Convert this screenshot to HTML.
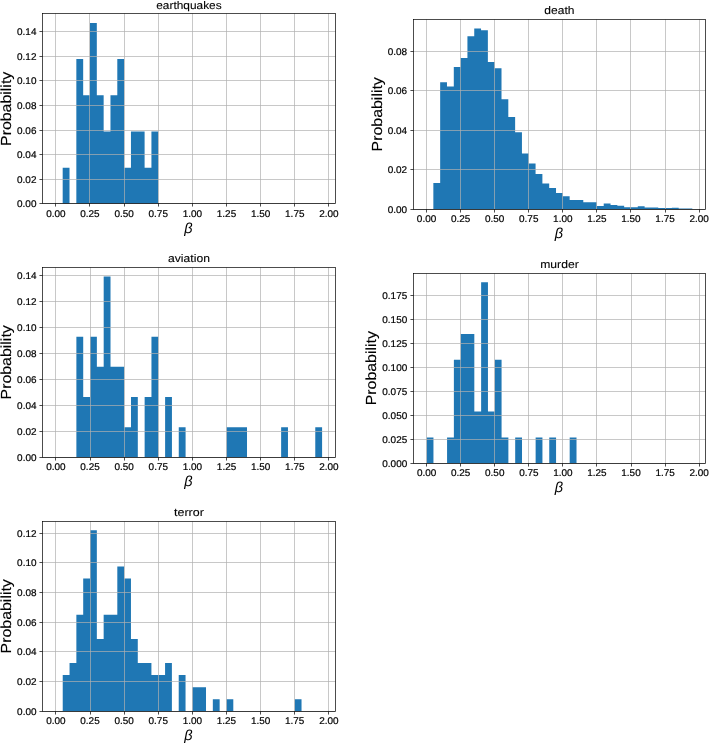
<!DOCTYPE html>
<html><head><meta charset="utf-8">
<title>Histograms</title>
<style>
html,body{margin:0;padding:0;background:#fff;}
svg{display:block;will-change:transform;}
.tk{stroke-width:0.2px;} .tt{stroke-width:0.1px;} .yl{stroke-width:0.1px;}
text{font-family:"Liberation Sans", sans-serif;fill:#000;stroke:#000;stroke-width:0;text-rendering:geometricPrecision;}
</style></head><body>
<svg width="709" height="743" viewBox="0 0 709 743">
<rect width="709" height="743" fill="#fff"/>
<g><path d="M62.69 203.80V167.63H69.51V203.80ZM76.34 203.80V59.11H83.17V203.80ZM83.17 203.80V95.29H89.99V203.80ZM89.99 203.80V22.94H96.82V203.80ZM96.82 203.80V95.29H103.65V203.80ZM103.65 203.80V131.46H110.47V203.80ZM110.47 203.80V95.29H117.30V203.80ZM117.30 203.80V59.11H124.12V203.80ZM124.12 203.80V167.63H130.95V203.80ZM130.95 203.80V131.46H137.78V203.80ZM137.78 203.80V131.46H144.60V203.80ZM144.60 203.80V167.63H151.43V203.80ZM151.43 203.80V131.46H158.26V203.80Z" fill="#1f77b4"/>
<line x1="55.50" y1="13.50" x2="55.50" y2="203.50" stroke="#b0b0b0" stroke-width="0.70"/>
<line x1="89.50" y1="13.50" x2="89.50" y2="203.50" stroke="#b0b0b0" stroke-width="0.70"/>
<line x1="124.50" y1="13.50" x2="124.50" y2="203.50" stroke="#b0b0b0" stroke-width="0.70"/>
<line x1="158.50" y1="13.50" x2="158.50" y2="203.50" stroke="#b0b0b0" stroke-width="0.70"/>
<line x1="192.50" y1="13.50" x2="192.50" y2="203.50" stroke="#b0b0b0" stroke-width="0.70"/>
<line x1="226.50" y1="13.50" x2="226.50" y2="203.50" stroke="#b0b0b0" stroke-width="0.70"/>
<line x1="260.50" y1="13.50" x2="260.50" y2="203.50" stroke="#b0b0b0" stroke-width="0.70"/>
<line x1="294.50" y1="13.50" x2="294.50" y2="203.50" stroke="#b0b0b0" stroke-width="0.70"/>
<line x1="328.50" y1="13.50" x2="328.50" y2="203.50" stroke="#b0b0b0" stroke-width="0.70"/>
<line x1="42.50" y1="203.50" x2="335.50" y2="203.50" stroke="#b0b0b0" stroke-width="0.70"/>
<line x1="42.50" y1="179.50" x2="335.50" y2="179.50" stroke="#b0b0b0" stroke-width="0.70"/>
<line x1="42.50" y1="154.50" x2="335.50" y2="154.50" stroke="#b0b0b0" stroke-width="0.70"/>
<line x1="42.50" y1="130.50" x2="335.50" y2="130.50" stroke="#b0b0b0" stroke-width="0.70"/>
<line x1="42.50" y1="105.50" x2="335.50" y2="105.50" stroke="#b0b0b0" stroke-width="0.70"/>
<line x1="42.50" y1="80.50" x2="335.50" y2="80.50" stroke="#b0b0b0" stroke-width="0.70"/>
<line x1="42.50" y1="56.50" x2="335.50" y2="56.50" stroke="#b0b0b0" stroke-width="0.70"/>
<line x1="42.50" y1="31.50" x2="335.50" y2="31.50" stroke="#b0b0b0" stroke-width="0.70"/>
<rect x="42.50" y="13.50" width="293.00" height="190.00" fill="none" stroke="#000" stroke-width="0.70"/>
<line x1="55.50" y1="203.50" x2="55.50" y2="206.55" stroke="#000" stroke-width="0.70"/>
<line x1="89.50" y1="203.50" x2="89.50" y2="206.55" stroke="#000" stroke-width="0.70"/>
<line x1="124.50" y1="203.50" x2="124.50" y2="206.55" stroke="#000" stroke-width="0.70"/>
<line x1="158.50" y1="203.50" x2="158.50" y2="206.55" stroke="#000" stroke-width="0.70"/>
<line x1="192.50" y1="203.50" x2="192.50" y2="206.55" stroke="#000" stroke-width="0.70"/>
<line x1="226.50" y1="203.50" x2="226.50" y2="206.55" stroke="#000" stroke-width="0.70"/>
<line x1="260.50" y1="203.50" x2="260.50" y2="206.55" stroke="#000" stroke-width="0.70"/>
<line x1="294.50" y1="203.50" x2="294.50" y2="206.55" stroke="#000" stroke-width="0.70"/>
<line x1="328.50" y1="203.50" x2="328.50" y2="206.55" stroke="#000" stroke-width="0.70"/>
<line x1="39.45" y1="203.50" x2="42.50" y2="203.50" stroke="#000" stroke-width="0.70"/>
<line x1="39.45" y1="179.50" x2="42.50" y2="179.50" stroke="#000" stroke-width="0.70"/>
<line x1="39.45" y1="154.50" x2="42.50" y2="154.50" stroke="#000" stroke-width="0.70"/>
<line x1="39.45" y1="130.50" x2="42.50" y2="130.50" stroke="#000" stroke-width="0.70"/>
<line x1="39.45" y1="105.50" x2="42.50" y2="105.50" stroke="#000" stroke-width="0.70"/>
<line x1="39.45" y1="80.50" x2="42.50" y2="80.50" stroke="#000" stroke-width="0.70"/>
<line x1="39.45" y1="56.50" x2="42.50" y2="56.50" stroke="#000" stroke-width="0.70"/>
<line x1="39.45" y1="31.50" x2="42.50" y2="31.50" stroke="#000" stroke-width="0.70"/>
<text class="tk" x="55.86" y="216.90" text-anchor="middle" font-size="9.77" textLength="19.39" lengthAdjust="spacingAndGlyphs">0.00</text>
<text class="tk" x="89.99" y="216.90" text-anchor="middle" font-size="9.77" textLength="19.39" lengthAdjust="spacingAndGlyphs">0.25</text>
<text class="tk" x="124.12" y="216.90" text-anchor="middle" font-size="9.77" textLength="19.39" lengthAdjust="spacingAndGlyphs">0.50</text>
<text class="tk" x="158.26" y="216.90" text-anchor="middle" font-size="9.77" textLength="19.39" lengthAdjust="spacingAndGlyphs">0.75</text>
<text class="tk" x="192.39" y="216.90" text-anchor="middle" font-size="9.77" textLength="19.39" lengthAdjust="spacingAndGlyphs">1.00</text>
<text class="tk" x="226.52" y="216.90" text-anchor="middle" font-size="9.77" textLength="19.39" lengthAdjust="spacingAndGlyphs">1.25</text>
<text class="tk" x="260.65" y="216.90" text-anchor="middle" font-size="9.77" textLength="19.39" lengthAdjust="spacingAndGlyphs">1.50</text>
<text class="tk" x="294.78" y="216.90" text-anchor="middle" font-size="9.77" textLength="19.39" lengthAdjust="spacingAndGlyphs">1.75</text>
<text class="tk" x="328.91" y="216.90" text-anchor="middle" font-size="9.77" textLength="19.39" lengthAdjust="spacingAndGlyphs">2.00</text>
<text class="tk" x="36.45" y="207.30" text-anchor="end" font-size="9.77" textLength="19.39" lengthAdjust="spacingAndGlyphs">0.00</text>
<text class="tk" x="36.45" y="182.70" text-anchor="end" font-size="9.77" textLength="19.39" lengthAdjust="spacingAndGlyphs">0.02</text>
<text class="tk" x="36.45" y="158.11" text-anchor="end" font-size="9.77" textLength="19.39" lengthAdjust="spacingAndGlyphs">0.04</text>
<text class="tk" x="36.45" y="133.51" text-anchor="end" font-size="9.77" textLength="19.39" lengthAdjust="spacingAndGlyphs">0.06</text>
<text class="tk" x="36.45" y="108.91" text-anchor="end" font-size="9.77" textLength="19.39" lengthAdjust="spacingAndGlyphs">0.08</text>
<text class="tk" x="36.45" y="84.32" text-anchor="end" font-size="9.77" textLength="19.39" lengthAdjust="spacingAndGlyphs">0.10</text>
<text class="tk" x="36.45" y="59.72" text-anchor="end" font-size="9.77" textLength="19.39" lengthAdjust="spacingAndGlyphs">0.12</text>
<text class="tk" x="36.45" y="35.12" text-anchor="end" font-size="9.77" textLength="19.39" lengthAdjust="spacingAndGlyphs">0.14</text>
<text class="tt" x="188.97" y="9" text-anchor="middle" font-size="10.96" textLength="65.43" lengthAdjust="spacingAndGlyphs">earthquakes</text>
<text class="yl" transform="translate(10.80,108.85) rotate(-90)" x="0" y="0" text-anchor="middle" font-size="14.61" textLength="74.20" lengthAdjust="spacingAndGlyphs">Probability</text>
<text x="184.28" y="232.95" font-size="14.56" font-style="italic">&#946;</text></g>
<g><path d="M433.35 209.20V183.00H440.17V209.20ZM440.17 209.20V82.30H446.98V209.20ZM446.98 209.20V86.60H453.80V209.20ZM453.80 209.20V67.10H460.61V209.20ZM460.61 209.20V58.00H467.43V209.20ZM467.43 209.20V36.20H474.24V209.20ZM474.24 209.20V28.60H481.06V209.20ZM481.06 209.20V30.20H487.87V209.20ZM487.87 209.20V62.00H494.69V209.20ZM494.69 209.20V68.30H501.50V209.20ZM501.50 209.20V99.20H508.31V209.20ZM508.31 209.20V117.00H515.13V209.20ZM515.13 209.20V132.30H521.94V209.20ZM521.94 209.20V153.60H528.76V209.20ZM528.76 209.20V163.50H535.57V209.20ZM535.57 209.20V173.90H542.39V209.20ZM542.39 209.20V183.50H549.20V209.20ZM549.20 209.20V188.00H556.02V209.20ZM556.02 209.20V193.10H562.83V209.20ZM562.83 209.20V196.20H569.65V209.20ZM569.65 209.20V200.10H576.46V209.20ZM576.46 209.20V200.10H583.28V209.20ZM583.28 209.20V202.20H590.09V209.20ZM590.09 209.20V202.20H596.91V209.20ZM596.91 209.20V206.10H603.72V209.20ZM603.72 209.20V203.50H610.54V209.20ZM610.54 209.20V204.90H617.35V209.20ZM617.35 209.20V205.70H624.16V209.20ZM624.16 209.20V207.20H630.98V209.20ZM630.98 209.20V207.20H637.79V209.20ZM637.79 209.20V206.30H644.61V209.20ZM644.61 209.20V207.50H651.42V209.20ZM651.42 209.20V207.50H658.24V209.20ZM658.24 209.20V208.10H665.05V209.20ZM665.05 209.20V208.10H671.87V209.20ZM671.87 209.20V207.80H678.68V209.20ZM678.68 209.20V208.50H685.50V209.20ZM685.50 209.20V208.50H692.31V209.20Z" fill="#1f77b4"/>
<line x1="426.50" y1="19.50" x2="426.50" y2="209.50" stroke="#b0b0b0" stroke-width="0.70"/>
<line x1="460.50" y1="19.50" x2="460.50" y2="209.50" stroke="#b0b0b0" stroke-width="0.70"/>
<line x1="494.50" y1="19.50" x2="494.50" y2="209.50" stroke="#b0b0b0" stroke-width="0.70"/>
<line x1="528.50" y1="19.50" x2="528.50" y2="209.50" stroke="#b0b0b0" stroke-width="0.70"/>
<line x1="562.50" y1="19.50" x2="562.50" y2="209.50" stroke="#b0b0b0" stroke-width="0.70"/>
<line x1="596.50" y1="19.50" x2="596.50" y2="209.50" stroke="#b0b0b0" stroke-width="0.70"/>
<line x1="630.50" y1="19.50" x2="630.50" y2="209.50" stroke="#b0b0b0" stroke-width="0.70"/>
<line x1="665.50" y1="19.50" x2="665.50" y2="209.50" stroke="#b0b0b0" stroke-width="0.70"/>
<line x1="699.50" y1="19.50" x2="699.50" y2="209.50" stroke="#b0b0b0" stroke-width="0.70"/>
<line x1="413.50" y1="209.50" x2="705.50" y2="209.50" stroke="#b0b0b0" stroke-width="0.70"/>
<line x1="413.50" y1="169.50" x2="705.50" y2="169.50" stroke="#b0b0b0" stroke-width="0.70"/>
<line x1="413.50" y1="130.50" x2="705.50" y2="130.50" stroke="#b0b0b0" stroke-width="0.70"/>
<line x1="413.50" y1="90.50" x2="705.50" y2="90.50" stroke="#b0b0b0" stroke-width="0.70"/>
<line x1="413.50" y1="51.50" x2="705.50" y2="51.50" stroke="#b0b0b0" stroke-width="0.70"/>
<rect x="413.50" y="19.50" width="292.00" height="190.00" fill="none" stroke="#000" stroke-width="0.70"/>
<line x1="426.50" y1="209.50" x2="426.50" y2="212.55" stroke="#000" stroke-width="0.70"/>
<line x1="460.50" y1="209.50" x2="460.50" y2="212.55" stroke="#000" stroke-width="0.70"/>
<line x1="494.50" y1="209.50" x2="494.50" y2="212.55" stroke="#000" stroke-width="0.70"/>
<line x1="528.50" y1="209.50" x2="528.50" y2="212.55" stroke="#000" stroke-width="0.70"/>
<line x1="562.50" y1="209.50" x2="562.50" y2="212.55" stroke="#000" stroke-width="0.70"/>
<line x1="596.50" y1="209.50" x2="596.50" y2="212.55" stroke="#000" stroke-width="0.70"/>
<line x1="630.50" y1="209.50" x2="630.50" y2="212.55" stroke="#000" stroke-width="0.70"/>
<line x1="665.50" y1="209.50" x2="665.50" y2="212.55" stroke="#000" stroke-width="0.70"/>
<line x1="699.50" y1="209.50" x2="699.50" y2="212.55" stroke="#000" stroke-width="0.70"/>
<line x1="410.45" y1="209.50" x2="413.50" y2="209.50" stroke="#000" stroke-width="0.70"/>
<line x1="410.45" y1="169.50" x2="413.50" y2="169.50" stroke="#000" stroke-width="0.70"/>
<line x1="410.45" y1="130.50" x2="413.50" y2="130.50" stroke="#000" stroke-width="0.70"/>
<line x1="410.45" y1="90.50" x2="413.50" y2="90.50" stroke="#000" stroke-width="0.70"/>
<line x1="410.45" y1="51.50" x2="413.50" y2="51.50" stroke="#000" stroke-width="0.70"/>
<text class="tk" x="426.54" y="222.30" text-anchor="middle" font-size="9.77" textLength="19.39" lengthAdjust="spacingAndGlyphs">0.00</text>
<text class="tk" x="460.61" y="222.30" text-anchor="middle" font-size="9.77" textLength="19.39" lengthAdjust="spacingAndGlyphs">0.25</text>
<text class="tk" x="494.69" y="222.30" text-anchor="middle" font-size="9.77" textLength="19.39" lengthAdjust="spacingAndGlyphs">0.50</text>
<text class="tk" x="528.76" y="222.30" text-anchor="middle" font-size="9.77" textLength="19.39" lengthAdjust="spacingAndGlyphs">0.75</text>
<text class="tk" x="562.83" y="222.30" text-anchor="middle" font-size="9.77" textLength="19.39" lengthAdjust="spacingAndGlyphs">1.00</text>
<text class="tk" x="596.91" y="222.30" text-anchor="middle" font-size="9.77" textLength="19.39" lengthAdjust="spacingAndGlyphs">1.25</text>
<text class="tk" x="630.98" y="222.30" text-anchor="middle" font-size="9.77" textLength="19.39" lengthAdjust="spacingAndGlyphs">1.50</text>
<text class="tk" x="665.05" y="222.30" text-anchor="middle" font-size="9.77" textLength="19.39" lengthAdjust="spacingAndGlyphs">1.75</text>
<text class="tk" x="699.13" y="222.30" text-anchor="middle" font-size="9.77" textLength="19.39" lengthAdjust="spacingAndGlyphs">2.00</text>
<text class="tk" x="407.15" y="212.55" text-anchor="end" font-size="9.77" textLength="19.39" lengthAdjust="spacingAndGlyphs">0.00</text>
<text class="tk" x="407.15" y="173.11" text-anchor="end" font-size="9.77" textLength="19.39" lengthAdjust="spacingAndGlyphs">0.02</text>
<text class="tk" x="407.15" y="133.68" text-anchor="end" font-size="9.77" textLength="19.39" lengthAdjust="spacingAndGlyphs">0.04</text>
<text class="tk" x="407.15" y="94.24" text-anchor="end" font-size="9.77" textLength="19.39" lengthAdjust="spacingAndGlyphs">0.06</text>
<text class="tk" x="407.15" y="54.80" text-anchor="end" font-size="9.77" textLength="19.39" lengthAdjust="spacingAndGlyphs">0.08</text>
<text class="tt" x="559.42" y="14" text-anchor="middle" font-size="10.96" textLength="30.19" lengthAdjust="spacingAndGlyphs">death</text>
<text class="yl" transform="translate(381.50,114.30) rotate(-90)" x="0" y="0" text-anchor="middle" font-size="14.61" textLength="74.20" lengthAdjust="spacingAndGlyphs">Probability</text>
<text x="554.72" y="238.35" font-size="14.56" font-style="italic">&#946;</text></g>
<g><path d="M76.38 457.30V336.73H83.21V457.30ZM83.21 457.30V397.01H90.03V457.30ZM90.03 457.30V336.73H96.86V457.30ZM96.86 457.30V366.87H103.69V457.30ZM103.69 457.30V276.44H110.51V457.30ZM110.51 457.30V366.87H117.34V457.30ZM117.34 457.30V366.87H124.16V457.30ZM124.16 457.30V427.16H130.99V457.30ZM130.99 457.30V397.01H137.81V457.30ZM144.64 457.30V397.01H151.46V457.30ZM151.46 457.30V336.73H158.29V457.30ZM165.11 457.30V397.01H171.94V457.30ZM178.76 457.30V427.16H185.59V457.30ZM226.54 457.30V427.16H233.36V457.30ZM233.36 457.30V427.16H240.19V457.30ZM240.19 457.30V427.16H247.01V457.30ZM281.14 457.30V427.16H287.97V457.30ZM315.27 457.30V427.16H322.09V457.30Z" fill="#1f77b4"/>
<line x1="55.50" y1="267.50" x2="55.50" y2="457.50" stroke="#b0b0b0" stroke-width="0.70"/>
<line x1="90.50" y1="267.50" x2="90.50" y2="457.50" stroke="#b0b0b0" stroke-width="0.70"/>
<line x1="124.50" y1="267.50" x2="124.50" y2="457.50" stroke="#b0b0b0" stroke-width="0.70"/>
<line x1="158.50" y1="267.50" x2="158.50" y2="457.50" stroke="#b0b0b0" stroke-width="0.70"/>
<line x1="192.50" y1="267.50" x2="192.50" y2="457.50" stroke="#b0b0b0" stroke-width="0.70"/>
<line x1="226.50" y1="267.50" x2="226.50" y2="457.50" stroke="#b0b0b0" stroke-width="0.70"/>
<line x1="260.50" y1="267.50" x2="260.50" y2="457.50" stroke="#b0b0b0" stroke-width="0.70"/>
<line x1="294.50" y1="267.50" x2="294.50" y2="457.50" stroke="#b0b0b0" stroke-width="0.70"/>
<line x1="328.50" y1="267.50" x2="328.50" y2="457.50" stroke="#b0b0b0" stroke-width="0.70"/>
<line x1="42.50" y1="457.50" x2="335.50" y2="457.50" stroke="#b0b0b0" stroke-width="0.70"/>
<line x1="42.50" y1="431.50" x2="335.50" y2="431.50" stroke="#b0b0b0" stroke-width="0.70"/>
<line x1="42.50" y1="405.50" x2="335.50" y2="405.50" stroke="#b0b0b0" stroke-width="0.70"/>
<line x1="42.50" y1="379.50" x2="335.50" y2="379.50" stroke="#b0b0b0" stroke-width="0.70"/>
<line x1="42.50" y1="353.50" x2="335.50" y2="353.50" stroke="#b0b0b0" stroke-width="0.70"/>
<line x1="42.50" y1="327.50" x2="335.50" y2="327.50" stroke="#b0b0b0" stroke-width="0.70"/>
<line x1="42.50" y1="301.50" x2="335.50" y2="301.50" stroke="#b0b0b0" stroke-width="0.70"/>
<line x1="42.50" y1="275.50" x2="335.50" y2="275.50" stroke="#b0b0b0" stroke-width="0.70"/>
<rect x="42.50" y="267.50" width="293.00" height="190.00" fill="none" stroke="#000" stroke-width="0.70"/>
<line x1="55.50" y1="457.50" x2="55.50" y2="460.55" stroke="#000" stroke-width="0.70"/>
<line x1="90.50" y1="457.50" x2="90.50" y2="460.55" stroke="#000" stroke-width="0.70"/>
<line x1="124.50" y1="457.50" x2="124.50" y2="460.55" stroke="#000" stroke-width="0.70"/>
<line x1="158.50" y1="457.50" x2="158.50" y2="460.55" stroke="#000" stroke-width="0.70"/>
<line x1="192.50" y1="457.50" x2="192.50" y2="460.55" stroke="#000" stroke-width="0.70"/>
<line x1="226.50" y1="457.50" x2="226.50" y2="460.55" stroke="#000" stroke-width="0.70"/>
<line x1="260.50" y1="457.50" x2="260.50" y2="460.55" stroke="#000" stroke-width="0.70"/>
<line x1="294.50" y1="457.50" x2="294.50" y2="460.55" stroke="#000" stroke-width="0.70"/>
<line x1="328.50" y1="457.50" x2="328.50" y2="460.55" stroke="#000" stroke-width="0.70"/>
<line x1="39.45" y1="457.50" x2="42.50" y2="457.50" stroke="#000" stroke-width="0.70"/>
<line x1="39.45" y1="431.50" x2="42.50" y2="431.50" stroke="#000" stroke-width="0.70"/>
<line x1="39.45" y1="405.50" x2="42.50" y2="405.50" stroke="#000" stroke-width="0.70"/>
<line x1="39.45" y1="379.50" x2="42.50" y2="379.50" stroke="#000" stroke-width="0.70"/>
<line x1="39.45" y1="353.50" x2="42.50" y2="353.50" stroke="#000" stroke-width="0.70"/>
<line x1="39.45" y1="327.50" x2="42.50" y2="327.50" stroke="#000" stroke-width="0.70"/>
<line x1="39.45" y1="301.50" x2="42.50" y2="301.50" stroke="#000" stroke-width="0.70"/>
<line x1="39.45" y1="275.50" x2="42.50" y2="275.50" stroke="#000" stroke-width="0.70"/>
<text class="tk" x="55.91" y="470.40" text-anchor="middle" font-size="9.77" textLength="19.39" lengthAdjust="spacingAndGlyphs">0.00</text>
<text class="tk" x="90.03" y="470.40" text-anchor="middle" font-size="9.77" textLength="19.39" lengthAdjust="spacingAndGlyphs">0.25</text>
<text class="tk" x="124.16" y="470.40" text-anchor="middle" font-size="9.77" textLength="19.39" lengthAdjust="spacingAndGlyphs">0.50</text>
<text class="tk" x="158.29" y="470.40" text-anchor="middle" font-size="9.77" textLength="19.39" lengthAdjust="spacingAndGlyphs">0.75</text>
<text class="tk" x="192.41" y="470.40" text-anchor="middle" font-size="9.77" textLength="19.39" lengthAdjust="spacingAndGlyphs">1.00</text>
<text class="tk" x="226.54" y="470.40" text-anchor="middle" font-size="9.77" textLength="19.39" lengthAdjust="spacingAndGlyphs">1.25</text>
<text class="tk" x="260.66" y="470.40" text-anchor="middle" font-size="9.77" textLength="19.39" lengthAdjust="spacingAndGlyphs">1.50</text>
<text class="tk" x="294.79" y="470.40" text-anchor="middle" font-size="9.77" textLength="19.39" lengthAdjust="spacingAndGlyphs">1.75</text>
<text class="tk" x="328.92" y="470.40" text-anchor="middle" font-size="9.77" textLength="19.39" lengthAdjust="spacingAndGlyphs">2.00</text>
<text class="tk" x="36.50" y="460.80" text-anchor="end" font-size="9.77" textLength="19.39" lengthAdjust="spacingAndGlyphs">0.00</text>
<text class="tk" x="36.50" y="434.88" text-anchor="end" font-size="9.77" textLength="19.39" lengthAdjust="spacingAndGlyphs">0.02</text>
<text class="tk" x="36.50" y="408.95" text-anchor="end" font-size="9.77" textLength="19.39" lengthAdjust="spacingAndGlyphs">0.04</text>
<text class="tk" x="36.50" y="383.03" text-anchor="end" font-size="9.77" textLength="19.39" lengthAdjust="spacingAndGlyphs">0.06</text>
<text class="tk" x="36.50" y="357.11" text-anchor="end" font-size="9.77" textLength="19.39" lengthAdjust="spacingAndGlyphs">0.08</text>
<text class="tk" x="36.50" y="331.19" text-anchor="end" font-size="9.77" textLength="19.39" lengthAdjust="spacingAndGlyphs">0.10</text>
<text class="tk" x="36.50" y="305.26" text-anchor="end" font-size="9.77" textLength="19.39" lengthAdjust="spacingAndGlyphs">0.12</text>
<text class="tk" x="36.50" y="279.34" text-anchor="end" font-size="9.77" textLength="19.39" lengthAdjust="spacingAndGlyphs">0.14</text>
<text class="tt" x="189.00" y="262" text-anchor="middle" font-size="10.96" textLength="41.91" lengthAdjust="spacingAndGlyphs">aviation</text>
<text class="yl" transform="translate(10.85,362.35) rotate(-90)" x="0" y="0" text-anchor="middle" font-size="14.61" textLength="74.20" lengthAdjust="spacingAndGlyphs">Probability</text>
<text x="184.30" y="486.45" font-size="14.56" font-style="italic">&#946;</text></g>
<g><path d="M426.63 463.30V437.44H433.45V463.30ZM447.07 463.30V437.44H453.88V463.30ZM453.88 463.30V359.84H460.70V463.30ZM460.70 463.30V333.98H467.51V463.30ZM467.51 463.30V333.98H474.32V463.30ZM474.32 463.30V411.57H481.13V463.30ZM481.13 463.30V282.25H487.95V463.30ZM487.95 463.30V411.57H494.76V463.30ZM494.76 463.30V359.84H501.57V463.30ZM501.57 463.30V437.44H508.38V463.30ZM515.19 463.30V437.44H522.01V463.30ZM535.63 463.30V437.44H542.44V463.30ZM549.26 463.30V437.44H556.07V463.30ZM569.69 463.30V437.44H576.51V463.30Z" fill="#1f77b4"/>
<line x1="426.50" y1="273.50" x2="426.50" y2="463.50" stroke="#b0b0b0" stroke-width="0.70"/>
<line x1="460.50" y1="273.50" x2="460.50" y2="463.50" stroke="#b0b0b0" stroke-width="0.70"/>
<line x1="494.50" y1="273.50" x2="494.50" y2="463.50" stroke="#b0b0b0" stroke-width="0.70"/>
<line x1="528.50" y1="273.50" x2="528.50" y2="463.50" stroke="#b0b0b0" stroke-width="0.70"/>
<line x1="562.50" y1="273.50" x2="562.50" y2="463.50" stroke="#b0b0b0" stroke-width="0.70"/>
<line x1="596.50" y1="273.50" x2="596.50" y2="463.50" stroke="#b0b0b0" stroke-width="0.70"/>
<line x1="631.50" y1="273.50" x2="631.50" y2="463.50" stroke="#b0b0b0" stroke-width="0.70"/>
<line x1="665.50" y1="273.50" x2="665.50" y2="463.50" stroke="#b0b0b0" stroke-width="0.70"/>
<line x1="699.50" y1="273.50" x2="699.50" y2="463.50" stroke="#b0b0b0" stroke-width="0.70"/>
<line x1="413.50" y1="463.50" x2="705.50" y2="463.50" stroke="#b0b0b0" stroke-width="0.70"/>
<line x1="413.50" y1="439.50" x2="705.50" y2="439.50" stroke="#b0b0b0" stroke-width="0.70"/>
<line x1="413.50" y1="415.50" x2="705.50" y2="415.50" stroke="#b0b0b0" stroke-width="0.70"/>
<line x1="413.50" y1="391.50" x2="705.50" y2="391.50" stroke="#b0b0b0" stroke-width="0.70"/>
<line x1="413.50" y1="367.50" x2="705.50" y2="367.50" stroke="#b0b0b0" stroke-width="0.70"/>
<line x1="413.50" y1="343.50" x2="705.50" y2="343.50" stroke="#b0b0b0" stroke-width="0.70"/>
<line x1="413.50" y1="319.50" x2="705.50" y2="319.50" stroke="#b0b0b0" stroke-width="0.70"/>
<line x1="413.50" y1="295.50" x2="705.50" y2="295.50" stroke="#b0b0b0" stroke-width="0.70"/>
<rect x="413.50" y="273.50" width="292.00" height="190.00" fill="none" stroke="#000" stroke-width="0.70"/>
<line x1="426.50" y1="463.50" x2="426.50" y2="466.55" stroke="#000" stroke-width="0.70"/>
<line x1="460.50" y1="463.50" x2="460.50" y2="466.55" stroke="#000" stroke-width="0.70"/>
<line x1="494.50" y1="463.50" x2="494.50" y2="466.55" stroke="#000" stroke-width="0.70"/>
<line x1="528.50" y1="463.50" x2="528.50" y2="466.55" stroke="#000" stroke-width="0.70"/>
<line x1="562.50" y1="463.50" x2="562.50" y2="466.55" stroke="#000" stroke-width="0.70"/>
<line x1="596.50" y1="463.50" x2="596.50" y2="466.55" stroke="#000" stroke-width="0.70"/>
<line x1="631.50" y1="463.50" x2="631.50" y2="466.55" stroke="#000" stroke-width="0.70"/>
<line x1="665.50" y1="463.50" x2="665.50" y2="466.55" stroke="#000" stroke-width="0.70"/>
<line x1="699.50" y1="463.50" x2="699.50" y2="466.55" stroke="#000" stroke-width="0.70"/>
<line x1="410.45" y1="463.50" x2="413.50" y2="463.50" stroke="#000" stroke-width="0.70"/>
<line x1="410.45" y1="439.50" x2="413.50" y2="439.50" stroke="#000" stroke-width="0.70"/>
<line x1="410.45" y1="415.50" x2="413.50" y2="415.50" stroke="#000" stroke-width="0.70"/>
<line x1="410.45" y1="391.50" x2="413.50" y2="391.50" stroke="#000" stroke-width="0.70"/>
<line x1="410.45" y1="367.50" x2="413.50" y2="367.50" stroke="#000" stroke-width="0.70"/>
<line x1="410.45" y1="343.50" x2="413.50" y2="343.50" stroke="#000" stroke-width="0.70"/>
<line x1="410.45" y1="319.50" x2="413.50" y2="319.50" stroke="#000" stroke-width="0.70"/>
<line x1="410.45" y1="295.50" x2="413.50" y2="295.50" stroke="#000" stroke-width="0.70"/>
<text class="tk" x="426.63" y="476.40" text-anchor="middle" font-size="9.77" textLength="19.39" lengthAdjust="spacingAndGlyphs">0.00</text>
<text class="tk" x="460.70" y="476.40" text-anchor="middle" font-size="9.77" textLength="19.39" lengthAdjust="spacingAndGlyphs">0.25</text>
<text class="tk" x="494.76" y="476.40" text-anchor="middle" font-size="9.77" textLength="19.39" lengthAdjust="spacingAndGlyphs">0.50</text>
<text class="tk" x="528.82" y="476.40" text-anchor="middle" font-size="9.77" textLength="19.39" lengthAdjust="spacingAndGlyphs">0.75</text>
<text class="tk" x="562.88" y="476.40" text-anchor="middle" font-size="9.77" textLength="19.39" lengthAdjust="spacingAndGlyphs">1.00</text>
<text class="tk" x="596.94" y="476.40" text-anchor="middle" font-size="9.77" textLength="19.39" lengthAdjust="spacingAndGlyphs">1.25</text>
<text class="tk" x="631.00" y="476.40" text-anchor="middle" font-size="9.77" textLength="19.39" lengthAdjust="spacingAndGlyphs">1.50</text>
<text class="tk" x="665.07" y="476.40" text-anchor="middle" font-size="9.77" textLength="19.39" lengthAdjust="spacingAndGlyphs">1.75</text>
<text class="tk" x="699.13" y="476.40" text-anchor="middle" font-size="9.77" textLength="19.39" lengthAdjust="spacingAndGlyphs">2.00</text>
<text class="tk" x="407.25" y="466.80" text-anchor="end" font-size="9.77" textLength="24.93" lengthAdjust="spacingAndGlyphs">0.000</text>
<text class="tk" x="407.25" y="442.88" text-anchor="end" font-size="9.77" textLength="24.93" lengthAdjust="spacingAndGlyphs">0.025</text>
<text class="tk" x="407.25" y="418.95" text-anchor="end" font-size="9.77" textLength="24.93" lengthAdjust="spacingAndGlyphs">0.050</text>
<text class="tk" x="407.25" y="395.03" text-anchor="end" font-size="9.77" textLength="24.93" lengthAdjust="spacingAndGlyphs">0.075</text>
<text class="tk" x="407.25" y="371.10" text-anchor="end" font-size="9.77" textLength="24.93" lengthAdjust="spacingAndGlyphs">0.100</text>
<text class="tk" x="407.25" y="347.18" text-anchor="end" font-size="9.77" textLength="24.93" lengthAdjust="spacingAndGlyphs">0.125</text>
<text class="tk" x="407.25" y="323.26" text-anchor="end" font-size="9.77" textLength="24.93" lengthAdjust="spacingAndGlyphs">0.150</text>
<text class="tk" x="407.25" y="299.33" text-anchor="end" font-size="9.77" textLength="24.93" lengthAdjust="spacingAndGlyphs">0.175</text>
<text class="tt" x="559.48" y="268" text-anchor="middle" font-size="10.96" textLength="38.46" lengthAdjust="spacingAndGlyphs">murder</text>
<text class="yl" transform="translate(375.65,368.25) rotate(-90)" x="0" y="0" text-anchor="middle" font-size="14.61" textLength="74.20" lengthAdjust="spacingAndGlyphs">Probability</text>
<text x="554.77" y="492.45" font-size="14.56" font-style="italic">&#946;</text></g>
<g><path d="M62.73 711.30V675.11H69.55V711.30ZM69.55 711.30V663.05H76.37V711.30ZM76.37 711.30V614.79H83.20V711.30ZM83.20 711.30V578.60H90.02V711.30ZM90.02 711.30V530.35H96.84V711.30ZM96.84 711.30V638.92H103.66V711.30ZM103.66 711.30V614.79H110.49V711.30ZM110.49 711.30V614.79H117.31V711.30ZM117.31 711.30V566.54H124.13V711.30ZM124.13 711.30V578.60H130.96V711.30ZM130.96 711.30V638.92H137.78V711.30ZM137.78 711.30V663.05H144.60V711.30ZM144.60 711.30V663.05H151.42V711.30ZM151.42 711.30V675.11H158.25V711.30ZM158.25 711.30V675.11H165.07V711.30ZM165.07 711.30V663.05H171.89V711.30ZM178.72 711.30V675.11H185.54V711.30ZM192.36 711.30V687.17H199.18V711.30ZM199.18 711.30V687.17H206.01V711.30ZM212.83 711.30V699.24H219.65V711.30ZM226.48 711.30V699.24H233.30V711.30ZM294.70 711.30V699.24H301.53V711.30Z" fill="#1f77b4"/>
<line x1="55.50" y1="521.50" x2="55.50" y2="711.50" stroke="#b0b0b0" stroke-width="0.70"/>
<line x1="90.50" y1="521.50" x2="90.50" y2="711.50" stroke="#b0b0b0" stroke-width="0.70"/>
<line x1="124.50" y1="521.50" x2="124.50" y2="711.50" stroke="#b0b0b0" stroke-width="0.70"/>
<line x1="158.50" y1="521.50" x2="158.50" y2="711.50" stroke="#b0b0b0" stroke-width="0.70"/>
<line x1="192.50" y1="521.50" x2="192.50" y2="711.50" stroke="#b0b0b0" stroke-width="0.70"/>
<line x1="226.50" y1="521.50" x2="226.50" y2="711.50" stroke="#b0b0b0" stroke-width="0.70"/>
<line x1="260.50" y1="521.50" x2="260.50" y2="711.50" stroke="#b0b0b0" stroke-width="0.70"/>
<line x1="294.50" y1="521.50" x2="294.50" y2="711.50" stroke="#b0b0b0" stroke-width="0.70"/>
<line x1="328.50" y1="521.50" x2="328.50" y2="711.50" stroke="#b0b0b0" stroke-width="0.70"/>
<line x1="42.50" y1="711.50" x2="335.50" y2="711.50" stroke="#b0b0b0" stroke-width="0.70"/>
<line x1="42.50" y1="681.50" x2="335.50" y2="681.50" stroke="#b0b0b0" stroke-width="0.70"/>
<line x1="42.50" y1="651.50" x2="335.50" y2="651.50" stroke="#b0b0b0" stroke-width="0.70"/>
<line x1="42.50" y1="622.50" x2="335.50" y2="622.50" stroke="#b0b0b0" stroke-width="0.70"/>
<line x1="42.50" y1="592.50" x2="335.50" y2="592.50" stroke="#b0b0b0" stroke-width="0.70"/>
<line x1="42.50" y1="562.50" x2="335.50" y2="562.50" stroke="#b0b0b0" stroke-width="0.70"/>
<line x1="42.50" y1="533.50" x2="335.50" y2="533.50" stroke="#b0b0b0" stroke-width="0.70"/>
<rect x="42.50" y="521.50" width="293.00" height="190.00" fill="none" stroke="#000" stroke-width="0.70"/>
<line x1="55.50" y1="711.50" x2="55.50" y2="714.55" stroke="#000" stroke-width="0.70"/>
<line x1="90.50" y1="711.50" x2="90.50" y2="714.55" stroke="#000" stroke-width="0.70"/>
<line x1="124.50" y1="711.50" x2="124.50" y2="714.55" stroke="#000" stroke-width="0.70"/>
<line x1="158.50" y1="711.50" x2="158.50" y2="714.55" stroke="#000" stroke-width="0.70"/>
<line x1="192.50" y1="711.50" x2="192.50" y2="714.55" stroke="#000" stroke-width="0.70"/>
<line x1="226.50" y1="711.50" x2="226.50" y2="714.55" stroke="#000" stroke-width="0.70"/>
<line x1="260.50" y1="711.50" x2="260.50" y2="714.55" stroke="#000" stroke-width="0.70"/>
<line x1="294.50" y1="711.50" x2="294.50" y2="714.55" stroke="#000" stroke-width="0.70"/>
<line x1="328.50" y1="711.50" x2="328.50" y2="714.55" stroke="#000" stroke-width="0.70"/>
<line x1="39.45" y1="711.50" x2="42.50" y2="711.50" stroke="#000" stroke-width="0.70"/>
<line x1="39.45" y1="681.50" x2="42.50" y2="681.50" stroke="#000" stroke-width="0.70"/>
<line x1="39.45" y1="651.50" x2="42.50" y2="651.50" stroke="#000" stroke-width="0.70"/>
<line x1="39.45" y1="622.50" x2="42.50" y2="622.50" stroke="#000" stroke-width="0.70"/>
<line x1="39.45" y1="592.50" x2="42.50" y2="592.50" stroke="#000" stroke-width="0.70"/>
<line x1="39.45" y1="562.50" x2="42.50" y2="562.50" stroke="#000" stroke-width="0.70"/>
<line x1="39.45" y1="533.50" x2="42.50" y2="533.50" stroke="#000" stroke-width="0.70"/>
<text class="tk" x="55.90" y="724.40" text-anchor="middle" font-size="9.77" textLength="19.39" lengthAdjust="spacingAndGlyphs">0.00</text>
<text class="tk" x="90.02" y="724.40" text-anchor="middle" font-size="9.77" textLength="19.39" lengthAdjust="spacingAndGlyphs">0.25</text>
<text class="tk" x="124.13" y="724.40" text-anchor="middle" font-size="9.77" textLength="19.39" lengthAdjust="spacingAndGlyphs">0.50</text>
<text class="tk" x="158.25" y="724.40" text-anchor="middle" font-size="9.77" textLength="19.39" lengthAdjust="spacingAndGlyphs">0.75</text>
<text class="tk" x="192.36" y="724.40" text-anchor="middle" font-size="9.77" textLength="19.39" lengthAdjust="spacingAndGlyphs">1.00</text>
<text class="tk" x="226.48" y="724.40" text-anchor="middle" font-size="9.77" textLength="19.39" lengthAdjust="spacingAndGlyphs">1.25</text>
<text class="tk" x="260.59" y="724.40" text-anchor="middle" font-size="9.77" textLength="19.39" lengthAdjust="spacingAndGlyphs">1.50</text>
<text class="tk" x="294.70" y="724.40" text-anchor="middle" font-size="9.77" textLength="19.39" lengthAdjust="spacingAndGlyphs">1.75</text>
<text class="tk" x="328.82" y="724.40" text-anchor="middle" font-size="9.77" textLength="19.39" lengthAdjust="spacingAndGlyphs">2.00</text>
<text class="tk" x="36.50" y="714.80" text-anchor="end" font-size="9.77" textLength="19.39" lengthAdjust="spacingAndGlyphs">0.00</text>
<text class="tk" x="36.50" y="685.12" text-anchor="end" font-size="9.77" textLength="19.39" lengthAdjust="spacingAndGlyphs">0.02</text>
<text class="tk" x="36.50" y="655.45" text-anchor="end" font-size="9.77" textLength="19.39" lengthAdjust="spacingAndGlyphs">0.04</text>
<text class="tk" x="36.50" y="625.77" text-anchor="end" font-size="9.77" textLength="19.39" lengthAdjust="spacingAndGlyphs">0.06</text>
<text class="tk" x="36.50" y="596.10" text-anchor="end" font-size="9.77" textLength="19.39" lengthAdjust="spacingAndGlyphs">0.08</text>
<text class="tk" x="36.50" y="566.42" text-anchor="end" font-size="9.77" textLength="19.39" lengthAdjust="spacingAndGlyphs">0.10</text>
<text class="tk" x="36.50" y="536.74" text-anchor="end" font-size="9.77" textLength="19.39" lengthAdjust="spacingAndGlyphs">0.12</text>
<text class="tt" x="188.95" y="516" text-anchor="middle" font-size="10.96" textLength="29.81" lengthAdjust="spacingAndGlyphs">terror</text>
<text class="yl" transform="translate(10.85,616.30) rotate(-90)" x="0" y="0" text-anchor="middle" font-size="14.61" textLength="74.20" lengthAdjust="spacingAndGlyphs">Probability</text>
<text x="184.25" y="740.45" font-size="14.56" font-style="italic">&#946;</text></g>
</svg>
</body></html>
